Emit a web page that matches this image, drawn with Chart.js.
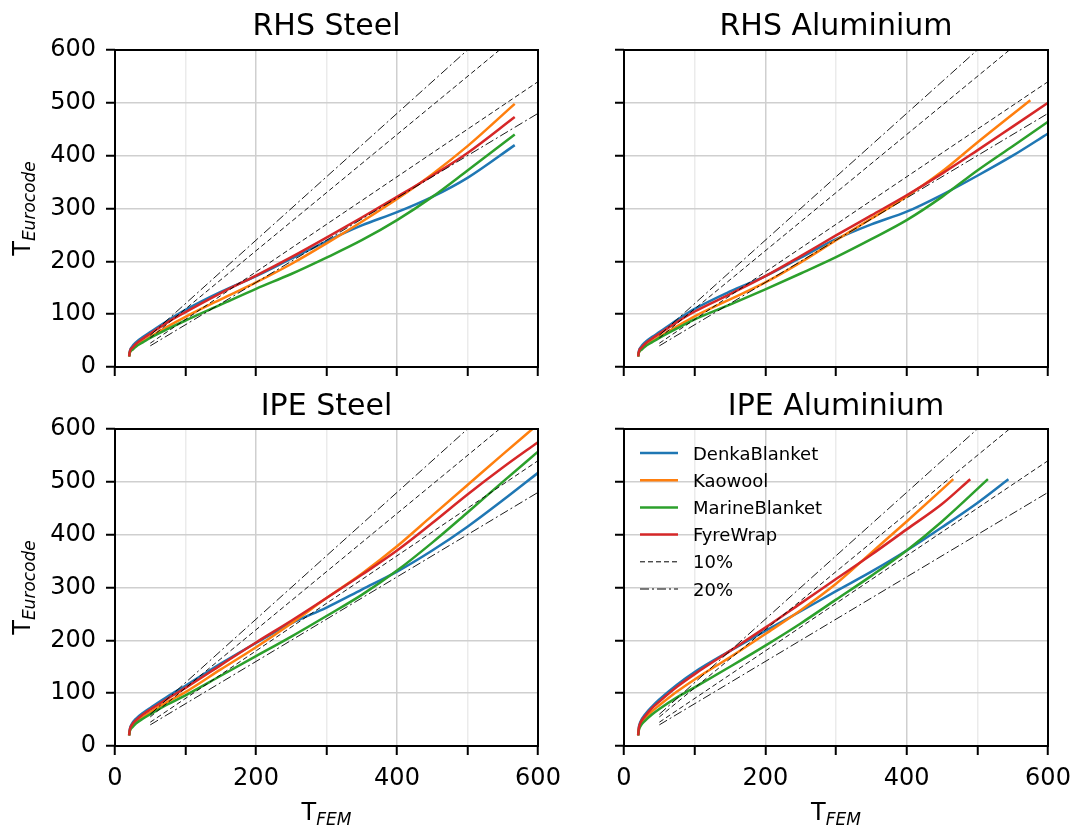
<!DOCTYPE html>
<html>
<head>
<meta charset="utf-8">
<script src="https://cdn.jsdelivr.net/npm/chart.js@4/dist/chart.umd.min.js"></script>
<style>
  html, body { margin: 0; padding: 0; background: #fff; }
  #wrap { position: relative; width: 1075px; height: 828px; }
  canvas { position: absolute; }
</style>
</head>
<body>
<div id="wrap">
  <canvas id="rhsSteel" width="560" height="380" style="left:0;top:0"></canvas>
  <canvas id="rhsAlu" width="515" height="380" style="left:560px;top:0"></canvas>
  <canvas id="ipeSteel" width="560" height="448" style="left:0;top:380px"></canvas>
  <canvas id="ipeAlu" width="515" height="448" style="left:560px;top:380px"></canvas>
</div>
<script>
const materials = ['DenkaBlanket', 'Kaowool', 'MarineBlanket', 'FyreWrap'];
const colors = ['#1f77b4', '#ff7f0e', '#2ca02c', '#d62728'];

// [T_FEM, T_Eurocode] pairs for each insulation
const rhsSteelDenka = [[20,20],[21,30],[24,38],[30,47],[40,57],[50,66],[75,88],[100,108],[150,142],[200,172],[250,205],[300,238],[350,268],[400,293],[450,322],[500,358],[567,420]];
const rhsSteelKaowool = [[20,20],[21,27],[25,34],[30,40],[40,49],[50,57],[75,77],[100,95],[150,128],[200,160],[250,195],[300,234],[350,275],[400,318],[450,365],[500,418],[567,498]];
const rhsSteelMarine = [[20,20],[21,27],[25,33],[30,39],[40,47],[50,55],[75,72],[100,88],[150,118],[200,148],[250,176],[300,207],[350,240],[400,278],[450,322],[500,372],[567,440]];
const rhsSteelFyre = [[20,20],[21,29],[25,37],[30,44],[40,54],[50,63],[75,85],[100,104],[150,140],[200,173],[250,208],[300,245],[350,283],[400,322],[450,362],[500,405],[567,473]];

const rhsAluDenka = [[20,20],[21,30],[24,38],[30,47],[40,57],[50,66],[75,89],[100,110],[150,143],[200,172],[250,207],[300,242],[350,270],[400,294],[450,326],[500,362],[550,400],[600,442]];
const rhsAluKaowool = [[20,20],[21,27],[25,34],[30,40],[40,49],[50,57],[75,77],[100,96],[150,128],[200,160],[250,198],[300,240],[350,281],[400,323],[450,370],[500,425],[575,505]];
const rhsAluMarine = [[20,20],[21,27],[25,33],[30,39],[40,47],[50,55],[75,73],[100,90],[150,118],[200,147],[250,177],[300,208],[350,242],[400,278],[450,322],[500,372],[550,418],[600,464]];
const rhsAluFyre = [[20,20],[21,29],[25,37],[30,44],[40,54],[50,63],[75,85],[100,105],[150,138],[200,172],[250,210],[300,249],[350,287],[400,325],[450,366],[500,410],[550,455],[600,500]];

const ipeSteelDenka = [[20,20],[21,32],[24,42],[30,52],[40,63],[50,72],[75,94],[100,114],[150,156],[200,195],[250,232],[300,262],[350,296],[400,330],[450,370],[500,415],[550,465],[600,517]];
const ipeSteelKaowool = [[20,20],[21,29],[25,38],[30,45],[40,55],[50,64],[75,84],[100,102],[150,145],[200,187],[250,232],[300,280],[350,326],[400,378],[450,436],[500,494],[550,552],[592,600]];
const ipeSteelMarine = [[20,20],[21,28],[25,36],[30,43],[40,52],[50,60],[75,79],[100,96],[150,133],[200,170],[250,207],[300,246],[350,286],[400,332],[450,385],[500,442],[550,500],[600,557]];
const ipeSteelFyre = [[20,20],[21,31],[24,40],[30,49],[40,60],[50,69],[75,90],[100,110],[150,153],[200,196],[250,237],[300,280],[350,324],[400,370],[450,422],[500,476],[550,527],[600,575]];

const ipeAluDenka = [[20,20],[21,35],[23,45],[30,60],[40,75],[50,88],[75,116],[100,140],[150,180],[200,218],[250,255],[300,293],[350,330],[400,370],[450,414],[500,460],[544,505]];
const ipeAluKaowool = [[20,20],[21,32],[24,42],[30,53],[40,66],[50,77],[75,103],[100,126],[150,168],[200,212],[250,257],[300,307],[350,366],[400,425],[466,505]];
const ipeAluMarine = [[20,20],[21,30],[24,39],[30,48],[40,60],[50,70],[75,92],[100,111],[150,150],[200,190],[250,232],[300,277],[350,322],[400,370],[450,425],[515,505]];
const ipeAluFyre = [[20,20],[21,34],[23,43],[30,57],[40,72],[50,84],[75,112],[100,136],[150,180],[200,224],[250,270],[300,316],[350,362],[400,410],[450,458],[490,505]];

// tolerance bands drawn as y = (1 +/- p) * x
const tolerances = [0.1, 0.2];
const tolDash = [[5, 3], [9, 3, 2, 3]];
const tolRange = [50, 600];

const axisMin = 0, axisMax = 600;
const font = '"DejaVu Sans"';

const frame = {
  id: 'frame',
  afterDraw(chart, args, o) {
    const { ctx, chartArea: a } = chart;
    ctx.save();
    ctx.strokeStyle = '#000';
    ctx.lineWidth = 2;
    ctx.strokeRect(a.left, a.top, a.width, a.height);

    ctx.fillStyle = '#000';
    ctx.textBaseline = 'alphabetic';
    ctx.textAlign = 'center';
    ctx.font = '30px ' + font;
    ctx.fillText(o.title, (a.left + a.right) / 2, 35);

    const subLabel = (base, sub, cx, y) => {
      ctx.font = '24px ' + font;
      const w1 = ctx.measureText(base).width;
      ctx.font = 'italic 17px ' + font;
      const w2 = ctx.measureText(sub).width;
      const x0 = cx - (w1 + w2) / 2;
      ctx.textAlign = 'left';
      ctx.font = '24px ' + font;
      ctx.fillText(base, x0, y);
      ctx.font = 'italic 17px ' + font;
      ctx.fillText(sub, x0 + w1, y + 5);
    };
    if (o.xLabel) subLabel('T', 'FEM', (a.left + a.right) / 2, a.bottom + 74);
    if (o.yLabel) {
      ctx.save();
      ctx.translate(30, (a.top + a.bottom) / 2);
      ctx.rotate(-Math.PI / 2);
      subLabel('T', 'Eurocode', 0, 0);
      ctx.restore();
    }

    if (o.legend) {
      const rows = materials.map((m, i) => ({ text: m, color: colors[i], width: 2.5, dash: [] }))
        .concat(tolerances.map((p, i) => ({ text: Math.round(p * 100) + '%', color: '#000', width: 1, dash: tolDash[i] })));
      ctx.font = '18px ' + font;
      ctx.textAlign = 'left';
      rows.forEach((r, i) => {
        const y = a.top + 24 + i * 27.2;
        ctx.beginPath();
        ctx.setLineDash(r.dash);
        ctx.strokeStyle = r.color;
        ctx.lineWidth = r.width;
        ctx.moveTo(a.left + 16, y);
        ctx.lineTo(a.left + 54, y);
        ctx.stroke();
        ctx.setLineDash([]);
        ctx.fillText(r.text, a.left + 69, y + 6.5);
      });
    }
    ctx.restore();
  }
};

function panel(id, title, series, area, showX, showY, legend) {
  const canvas = document.getElementById(id);
  const W = canvas.width, H = canvas.height;
  const datasets = [];
  tolerances.forEach((p, i) => {
    [1 + p, 1 - p].forEach(f => {
      datasets.push({
        data: tolRange.map(x => ({ x: x, y: x * f })),
        borderColor: '#000',
        borderWidth: 0.9,
        borderDash: tolDash[i],
        tension: 0,
        order: 0
      });
    });
  });
  series.forEach((s, i) => {
    datasets.push({
      label: materials[i],
      data: s.map(p => ({ x: p[0], y: p[1] })),
      borderColor: colors[i],
      borderWidth: 2.5,
      cubicInterpolationMode: 'monotone',
      order: series.length - i
    });
  });

  new Chart(canvas, {
    type: 'line',
    data: { datasets },
    options: {
      responsive: false,
      animation: false,
      events: [],
      layout: { padding: { top: area.top, right: W - area.right, left: 0, bottom: 0 } },
      elements: { point: { radius: 0 } },
      plugins: {
        legend: { display: false },
        tooltip: { enabled: false },
        frame: { title, xLabel: showX, yLabel: showY, legend }
      },
      scales: {
        x: {
          type: 'linear', min: axisMin, max: axisMax,
          ticks: {
            stepSize: 100, display: showX, autoSkip: false, maxRotation: 0,
            color: '#000', padding: 9, font: { family: 'DejaVu Sans', size: 24 },
            callback: v => (v % 200 === 0 ? v : '')
          },
          grid: {
            color: c => (c.tick && c.tick.value % 200 === 0 ? '#cfcfcf' : '#ebebeb'),
            lineWidth: 1.5, tickColor: '#000', tickLength: 9, tickWidth: 2
          },
          border: { display: false },
          afterFit: s => {
            s.height = H - area.bottom;
            s.paddingLeft = s.paddingRight = s.paddingTop = s.paddingBottom = 0;
          }
        },
        y: {
          type: 'linear', min: axisMin, max: axisMax,
          ticks: {
            stepSize: 100, display: showY, color: '#000', padding: 10,
            font: { family: 'DejaVu Sans', size: 24 }
          },
          grid: { color: '#cfcfcf', lineWidth: 1.5, tickColor: '#000', tickLength: 9, tickWidth: 2 },
          border: { display: false },
          afterFit: s => {
            s.width = area.left;
            s.paddingLeft = s.paddingRight = s.paddingTop = s.paddingBottom = 0;
          }
        }
      }
    },
    plugins: [frame]
  });
}

panel('rhsSteel', 'RHS Steel', [rhsSteelDenka, rhsSteelKaowool, rhsSteelMarine, rhsSteelFyre],
  { left: 115, right: 538, top: 50, bottom: 367 }, false, true, false);
panel('rhsAlu', 'RHS Aluminium', [rhsAluDenka, rhsAluKaowool, rhsAluMarine, rhsAluFyre],
  { left: 64, right: 488, top: 50, bottom: 367 }, false, false, false);
panel('ipeSteel', 'IPE Steel', [ipeSteelDenka, ipeSteelKaowool, ipeSteelMarine, ipeSteelFyre],
  { left: 115, right: 538, top: 49, bottom: 366 }, true, true, false);
panel('ipeAlu', 'IPE Aluminium', [ipeAluDenka, ipeAluKaowool, ipeAluMarine, ipeAluFyre],
  { left: 64, right: 488, top: 49, bottom: 366 }, true, false, true);
</script>
</body>
</html>
